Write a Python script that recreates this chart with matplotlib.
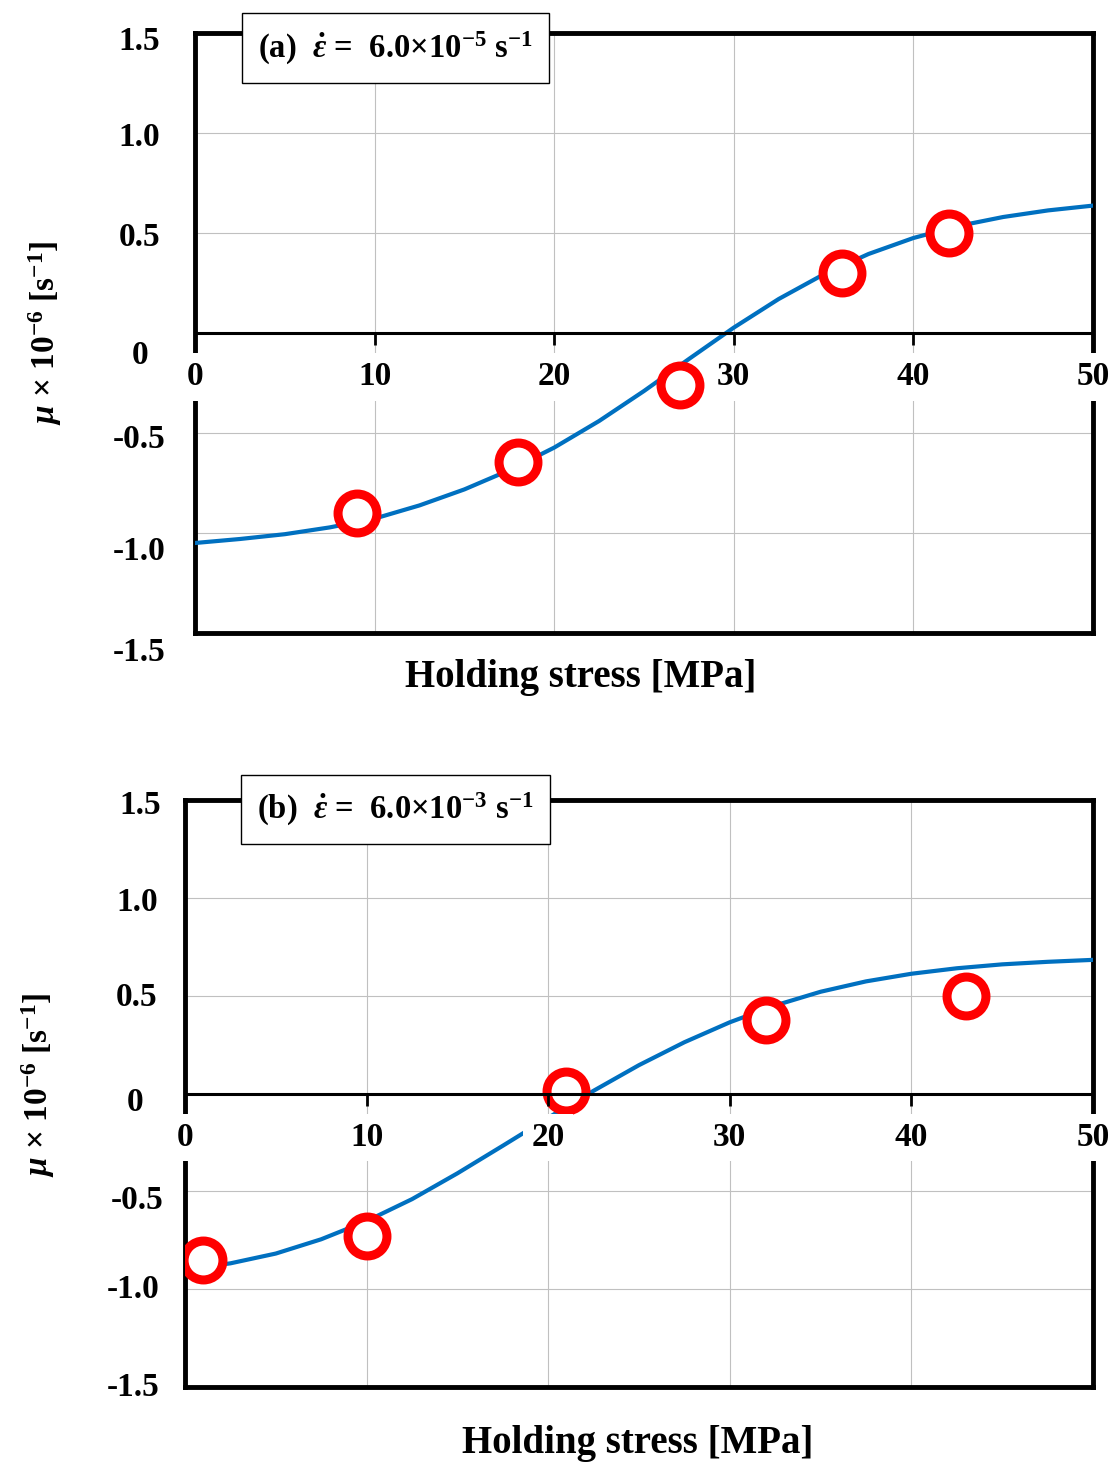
import matplotlib
matplotlib.use('Agg')
import matplotlib.pyplot as plt
from matplotlib.transforms import ScaledTranslation

plt.rcParams['font.family'] = ['Liberation Serif', 'DejaVu Serif']
plt.rcParams['font.weight'] = 'bold'
plt.rcParams['mathtext.fontset'] = 'custom'
plt.rcParams['mathtext.rm'] = 'Liberation Serif:bold'
plt.rcParams['mathtext.it'] = 'Liberation Serif:italic:bold'
plt.rcParams['mathtext.bf'] = 'Liberation Serif:bold'

# fitted curves
curve_x = [0, 2.5, 5, 7.5, 10, 12.5, 15, 17.5, 20, 22.5, 25,
           27.5, 30, 32.5, 35, 37.5, 40, 42.5, 45, 47.5, 50]
curve_a = [-1.05, -1.03, -1.006, -0.972, -0.928, -0.862, -0.782, -0.686, -0.573, -0.44, -0.29,
           -0.13, 0.027, 0.17, 0.293, 0.395, 0.475, 0.535, 0.58, 0.613, 0.637]
curve_b = [-0.90, -0.868, -0.818, -0.745, -0.652, -0.54, -0.408, -0.267, -0.124, 0.014, 0.145,
           0.262, 0.364, 0.45, 0.52, 0.573, 0.612, 0.64, 0.66, 0.673, 0.683]

# measured points
pts_a_x = [9, 18, 27, 36, 42]
pts_a_y = [-0.90, -0.645, -0.26, 0.30, 0.50]
pts_b_x = [1, 10, 21, 32, 43]
pts_b_y = [-0.85, -0.73, 0.015, 0.375, 0.50]

x_ticks = [0, 10, 20, 30, 40, 50]
y_ticks = [1.5, 1.0, 0.5, 0, -0.5, -1.0, -1.5]
y_ticklabels = ['1.5', '1.0', '0.5', '0', '-0.5', '-1.0', '-1.5']

title_a = r'(a)  $\dot{\varepsilon}$ =  6.0×10$^{-5}$ s$^{-1}$'
title_b = r'(b)  $\dot{\varepsilon}$ =  6.0×10$^{-3}$ s$^{-1}$'
ylab = r'$\mu$ × 10$^{-6}$ [s$^{-1}$]'
xlab = 'Holding stress [MPa]'

W, H = 1116, 1466
fig = plt.figure(figsize=(W / 100, H / 100), dpi=100)


def px(dx, dy):
    return ScaledTranslation(dx / 100, -dy / 100, fig.dpi_scale_trans)


def panel(left, top, right, bottom, cx, cy, title, title_xy, ylab_off, xlab_pos, ylab_pos):
    ax = fig.add_axes([left / W, 1 - bottom / H, (right - left) / W, (bottom - top) / H])
    ax.set_xlim(0, 50)
    ax.set_ylim(-1.5, 1.5)
    ax.set_xticks(x_ticks)
    ax.set_yticks(y_ticks)
    ax.tick_params(axis='both', length=0, labelbottom=False, labelleft=False)
    ax.grid(True, color='#c0c0c0', lw=0.8)
    ax.set_axisbelow(True)
    for s in ax.spines.values():
        s.set_linewidth(3.5)

    ax.plot(cx[0], cx[1], color='#0070c0', lw=3, zorder=3, solid_joinstyle='round')
    ax.plot(cy[0], cy[1], 'o', ms=28, mfc='white', mec='#ff0000', mew=6.5, zorder=4)

    # y tick labels, nudged like the original
    for v, lab, (dx, dy) in zip(y_ticks, y_ticklabels, ylab_off):
        ax.text(0, v, lab, transform=ax.get_yaxis_transform() + px(dx, dy),
                ha='right', va='center', fontsize=24, fontweight='bold')

    # x axis drawn through zero
    sec = ax.secondary_xaxis(0.5)
    sec.set_alignment('bottom')
    sec.patch.set_visible(False)
    sec.spines['bottom'].set_linewidth(2.2)
    sec.set_xticks(x_ticks)
    sec.tick_params(axis='x', direction='out', length=8.5, width=2, pad=12, labelsize=24)
    for lbl in sec.get_xticklabels():
        lbl.set_fontweight('bold')
        lbl.set_bbox(dict(facecolor='white', edgecolor='none', pad=6))
    sec.set_zorder(5)

    ax.text(title_xy[0], title_xy[1], title, transform=ax.transAxes, ha='center', va='center',
            fontsize=23.5, zorder=6,
            bbox=dict(boxstyle='square,pad=0.5', facecolor='white', edgecolor='black', lw=1))

    fig.text(xlab_pos[0] / W, 1 - xlab_pos[1] / H, xlab, ha='center', va='center',
             fontsize=28, fontweight='bold')
    fig.text(ylab_pos[0] / W, 1 - ylab_pos[1] / H, ylab, ha='center', va='center',
             rotation=90, fontsize=24, fontweight='bold')
    return ax


panel(195, 33, 1093, 633, (curve_x, curve_a), (pts_a_x, pts_a_y), title_a, (0.2233, 0.975),
      [(-35, 9), (-35, 4), (-35, 5), (-47, 22), (-30, 7), (-30, 19), (-30, 20)],
      (581, 677), (45, 333))
panel(185, 800, 1093, 1387, (curve_x, curve_b), (pts_b_x, pts_b_y), title_b, (0.2318, 0.984),
      [(-24, 5), (-27, 5), (-28, 2), (-42, 9), (-22, 9), (-25, 0), (-25, 0)],
      (638, 1443), (38, 1085))

fig.savefig('out.png', dpi=100)
